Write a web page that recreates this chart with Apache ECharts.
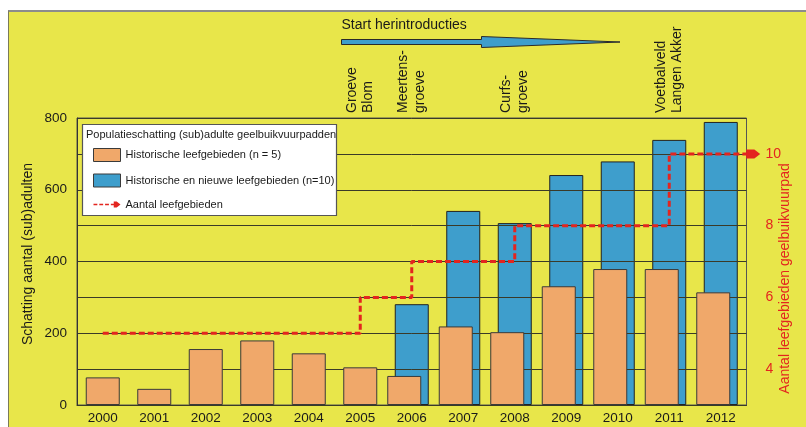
<!DOCTYPE html>
<html><head><meta charset="utf-8">
<script src="https://cdn.jsdelivr.net/npm/echarts@6/dist/echarts.min.js"></script>
<style>
html,body{margin:0;padding:0;background:#fff;}
#frame{position:absolute;left:8px;top:10px;width:798px;height:417px;background:#E8E64A;border-left:1px solid #7a7a5a;border-top:2px solid #8c8c8c;box-sizing:border-box;}
#chart{position:absolute;left:0;top:0;width:806px;height:427px;}
</style></head><body>
<div id="frame"></div><div id="chart"></div>
<script>
// ---- data ----
const years = ['2000','2001','2002','2003','2004','2005','2006','2007','2008','2009','2010','2011','2012'];
const historisch = [77, 45, 156, 180, 144, 105, 81, 219, 203, 331, 379, 379, 314];
const totaal = [null, null, null, null, null, null, 281, 541, 507, 641, 679, 739, 789];
const aantalLeefgebieden = [5, 5, 5, 5, 5, 6, 7, 7, 8, 8, 8, 10, 10];
const introYears = ['2005', '2006', '2008', '2011'];
const introLabels = ['Groeve\nBlom', 'Meertens-\ngroeve', 'Curfs-\ngroeve', 'Voetbalveld\nLangen Akker'];
const leftTickStep = 200;
const rightTickStep = 2;

const nameHist = 'Historische leefgebieden (n = 5)';
const nameTot = 'Historische en nieuwe leefgebieden (n=10)';
const nameAantal = 'Aantal leefgebieden';

// ---- styles ----
const FONT = 'Liberation Sans, Arial, sans-serif';
const ORANGE = '#F0A86A', BLUE = '#3E9ECC', RED = '#E3251F', TXT = '#1a1a1a';

const orangeEarly = historisch.map((v, i) => totaal[i] == null ? v : null);
const orangeLate = historisch.map((v, i) => totaal[i] == null ? null : v);
const lastIdx = aantalLeefgebieden.length - 1;
const arrowX = lastIdx + 0.63;
const lineData = aantalLeefgebieden.map((v, i) => [i, v]);
lineData.push([arrowX, aantalLeefgebieden[lastIdx]]);
const introMap = {};
introYears.forEach((y, i) => introMap[y] = introLabels[i]);

const chart = echarts.init(document.getElementById('chart'), null, {renderer: 'canvas'});
const barBorder = {borderColor: '#3a3a3a', borderWidth: 1};
const ARROW = 'path://M0,0L7,0L12,4.5L7,9L0,9Z';

chart.setOption({
  animation: false,
  backgroundColor: 'transparent',
  textStyle: {fontFamily: FONT},
  grid: [
    {left: 77, right: 59.5, top: 118, bottom: 22, show: true, borderColor: '#555', borderWidth: 1,
     backgroundColor: 'transparent', containLabel: false, outerBoundsMode: 'none'},
    {left: 69.5, right: 67, top: 118, bottom: 22, containLabel: false, outerBoundsMode: 'none'}
  ],
  xAxis: [
    {type: 'category', data: years, gridIndex: 0, position: 'bottom',
     axisLine: {onZero: false, lineStyle: {color: '#333', width: 1}}, axisTick: {show: false},
     axisLabel: {color: TXT, fontSize: 13.5, margin: 6, fontFamily: FONT}},
    {type: 'category', data: years, gridIndex: 0, position: 'bottom', show: false, axisLine: {onZero: false}},
    {type: 'category', data: years, gridIndex: 1, position: 'bottom', show: false, axisLine: {onZero: false}},
    {type: 'value', gridIndex: 0, position: 'bottom', min: -0.5, max: 12.5, show: false, axisLine: {onZero: false}, splitLine: {show: false}},
    {type: 'category', data: years, gridIndex: 0, position: 'top',
     axisLine: {show: false, onZero: false}, axisTick: {show: false}, splitLine: {show: false},
     axisLabel: {interval: 0, rotate: -90, margin: 5, color: TXT, fontSize: 14, lineHeight: 16.5, fontFamily: FONT,
                 formatter: v => introMap[v] || ''}}
  ],
  yAxis: [
    {type: 'value', gridIndex: 0, position: 'left', min: 0, max: 800, interval: 100, z: 3,
     axisLine: {show: true, onZero: false, lineStyle: {color: '#333'}}, axisTick: {show: false},
     axisLabel: {color: TXT, fontSize: 13.5, margin: 10, fontFamily: FONT,
                 formatter: v => (v % leftTickStep === 0 ? String(v) : '')},
     splitLine: {lineStyle: {color: '#3a3a28', width: 1}},
     name: 'Schatting aantal (sub)adulten', nameLocation: 'middle', nameGap: 42, nameMoveOverlap: false,
     nameTextStyle: {color: TXT, fontSize: 14, fontFamily: FONT, padding: [0, 0, 0, 15]}},
    {type: 'value', gridIndex: 0, position: 'right', min: 3, max: 11, interval: 1,
     axisLine: {show: false, onZero: false}, axisTick: {show: false}, splitLine: {show: false},
     axisLabel: {color: RED, fontSize: 14, margin: 19, fontFamily: FONT,
                 formatter: v => (v % rightTickStep === 0 ? String(v) : '')},
     name: 'Aantal leefgebieden geelbuikvuurpad', nameLocation: 'middle', nameRotate: 90, nameGap: 31.5, nameMoveOverlap: false,
     nameTextStyle: {color: RED, fontSize: 14, fontFamily: FONT, padding: [0, 34, 0, 0]}},
    {type: 'value', gridIndex: 1, min: 0, max: 800, show: false, axisLine: {onZero: false}, splitLine: {show: false}}
  ],
  legend: {
    orient: 'vertical', left: 93, top: 148, itemWidth: 27, itemHeight: 13, itemGap: 11.5, padding: 0, z: 11,
    selectedMode: false,
    textStyle: {fontSize: 11, color: TXT, fontFamily: FONT},
    data: [
      {name: nameHist, icon: 'rect', itemStyle: {color: ORANGE, borderColor: '#3a3a3a', borderWidth: 1}},
      {name: nameTot, icon: 'rect', itemStyle: {color: BLUE, borderColor: '#3a3a3a', borderWidth: 1}},
      {name: nameAantal, icon: 'path://M0,2.3h4v1.4h-4z M6,2.3h4v1.4h-4z M12,2.3h4v1.4h-4z M18,2.3h4v1.4h-4z M21,0L24,0L28,3L24,6L21,6Z',
       itemStyle: {color: RED, borderWidth: 0}}
    ]
  },
  graphic: [
    {id: 'lbox', type: 'rect', z: 10, shape: {x: 82.5, y: 124.5, width: 254, height: 91},
     style: {fill: '#fff', stroke: '#555', lineWidth: 1.2}},
    {id: 'ltitle', type: 'text', z: 12, x: 86, y: 135,
     style: {text: 'Populatieschatting (sub)adulte geelbuikvuurpadden', fontSize: 11, fontFamily: FONT, fill: TXT, verticalAlign: 'middle'}},
    {id: 'starttxt', type: 'text', z: 12, x: 341.5, y: 25,
     style: {text: 'Start herintroducties', fontSize: 14, fontFamily: FONT, fill: TXT, verticalAlign: 'middle'}},
    {id: 'startarrow', type: 'polygon', z: 12,
     shape: {points: [[341.5, 39.5], [481.5, 39.5], [481.5, 36.5], [620, 42], [481.5, 47.5], [481.5, 44.5], [341.5, 44.5]]},
     style: {fill: BLUE, stroke: '#2a2a2a', lineWidth: 1}}
  ],
  series: [
    {name: nameHist, type: 'bar', xAxisIndex: 0, yAxisIndex: 0, barWidth: 34, z: 4,
     itemStyle: Object.assign({color: ORANGE}, barBorder), data: orangeEarly},
    {name: nameTot, type: 'bar', xAxisIndex: 1, yAxisIndex: 0, barWidth: 34, z: 2,
     itemStyle: {color: BLUE, borderColor: '#222', borderWidth: 1}, data: totaal},
    {name: nameHist, type: 'bar', xAxisIndex: 2, yAxisIndex: 2, barWidth: 34, z: 4,
     itemStyle: Object.assign({color: ORANGE}, barBorder), data: orangeLate},
    {name: nameAantal, type: 'line', xAxisIndex: 3, yAxisIndex: 1, step: 'end', z: 5, clip: false,
     symbol: ARROW, showSymbol: true, showAllSymbol: true, symbolKeepAspect: false,
     symbolSize: (val, params) => params.dataIndex === lineData.length - 1 ? [14, 9] : 0,
     lineStyle: {color: RED, width: 3, type: [6, 3]}, itemStyle: {color: RED},
     data: lineData}
  ]
});
</script>
</body></html>
